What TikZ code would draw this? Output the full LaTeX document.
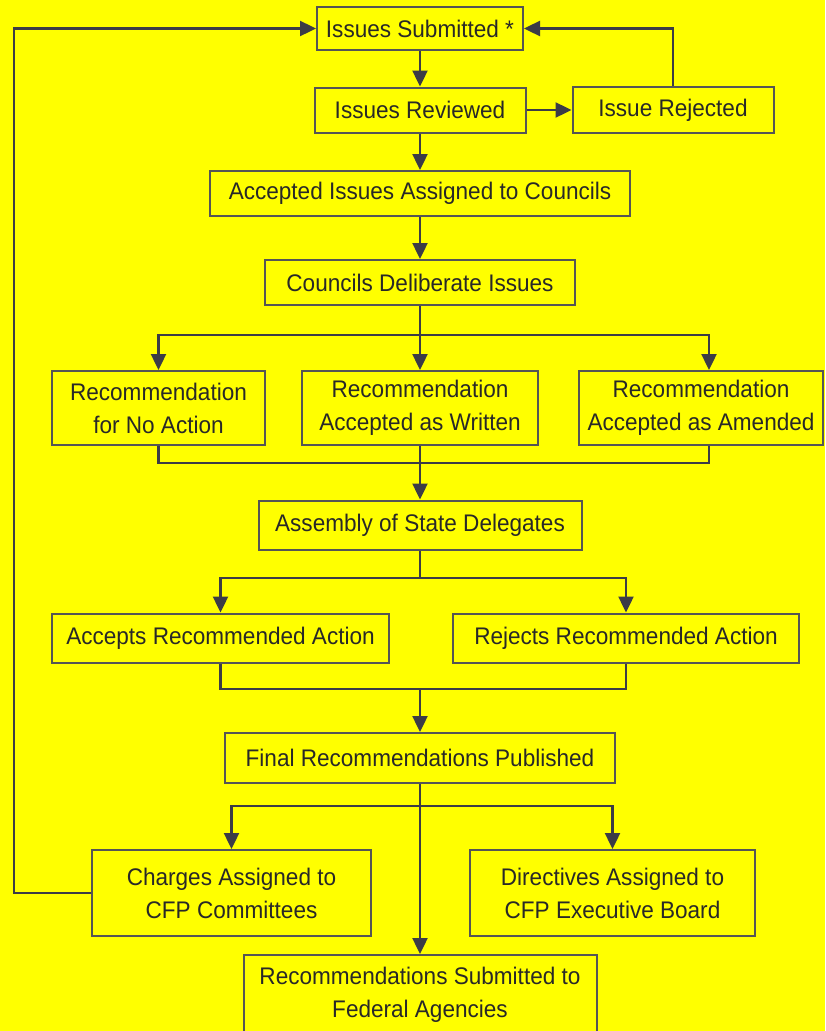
\documentclass[tikz,border=0pt]{standalone}
\usepackage{fontspec}
\setmainfont{Liberation Sans}[FakeStretch=0.94]
\usetikzlibrary{arrows.meta}
\definecolor{bgyellow}{RGB}{255,255,0}
\definecolor{linegray}{RGB}{60,60,70}
\definecolor{boxgray}{RGB}{85,85,85}
\definecolor{textgray}{RGB}{40,40,40}
\begin{document}
\begin{tikzpicture}[x=1pt, y=-1pt,
    block/.style={draw=boxgray, line width=2pt, fill=bgyellow, rectangle, align=center,
      inner sep=0pt, text=textgray, font=\fontsize{24}{33}\selectfont},
    flow/.style={draw=linegray, line width=2.4pt, -{Triangle[length=16pt,width=15pt]}},
    link/.style={draw=linegray, line width=2.4pt}]
	% Background
	\fill[bgyellow] (0,0) rectangle (825,1031);
	\useasboundingbox (0,0) rectangle (825,1031);

	% Submission and review
	\node[block, minimum width=206pt, minimum height=43pt] (submitted) at (420,28.5) {Issues Submitted *};
	\node[block, minimum width=211pt, minimum height=45pt] (reviewed) at (420,110) {Issues Reviewed};
	\node[block, minimum width=201pt, minimum height=46pt] (rejected) at (673,110) {Issue Rejected};
	\draw[flow] (submitted) -- (reviewed);
	\draw[flow] (reviewed) -- (rejected);
	\draw[flow] (rejected.north) |- (submitted.east);

	% Councils
	\node[block, minimum width=420pt, minimum height=45pt] (assigned) at (420,193.5) {Accepted Issues Assigned to Councils};
	\node[block, minimum width=310pt, minimum height=45pt] (deliberate) at (420,282.5) {Councils Deliberate Issues};
	\draw[flow] (reviewed) -- (assigned);
	\draw[flow] (assigned) -- (deliberate);

	% Recommendations
	\node[block, minimum width=213pt, minimum height=74pt] (noaction) at (158.5,408) {Recommendation\\for No Action};
	\node[block, minimum width=236pt, minimum height=74pt] (written) at (420,408) {Recommendation\\Accepted as Written};
	\node[block, minimum width=244pt, minimum height=74pt] (amended) at (701,408) {Recommendation\\Accepted as Amended};
	\coordinate (split1) at (420,335);
	\draw[link] (deliberate.south) -- (split1);
	\draw[flow] (split1) -| (noaction.north);
	\draw[flow] (split1) -- (written.north);
	\draw[flow] (split1) -| ([xshift=8pt]amended.north);

	% Assembly
	\node[block, minimum width=323pt, minimum height=49pt] (assembly) at (420,525) {Assembly of State Delegates};
	\coordinate (merge1) at (420,463);
	\draw[link] (noaction.south) |- (merge1);
	\draw[link] ([xshift=8pt]amended.south) |- (merge1);
	\draw[flow] (written.south) -- (assembly.north);

	% Vote
	\node[block, minimum width=337pt, minimum height=49pt] (accepts) at (220.5,638) {Accepts Recommended Action};
	\node[block, minimum width=346pt, minimum height=49pt] (rejects) at (626,638) {Rejects Recommended Action};
	\coordinate (split2) at (420,578);
	\draw[link] (assembly.south) -- (split2);
	\draw[flow] (split2) -| (accepts.north);
	\draw[flow] (split2) -| (rejects.north);

	% Final recommendations
	\node[block, minimum width=390pt, minimum height=50pt] (final) at (420,758) {Final Recommendations Published};
	\coordinate (merge2) at (420,689);
	\draw[link] (accepts.south) |- (merge2);
	\draw[link] (rejects.south) |- (merge2);
	\draw[flow] (merge2) -- (final.north);

	% Outcomes
	\node[block, minimum width=279pt, minimum height=86pt] (charges) at (231.5,893) {Charges Assigned to\\CFP Committees};
	\node[block, minimum width=285pt, minimum height=86pt] (directives) at (612.5,893) {Directives Assigned to\\CFP Executive Board};
	\node[block, minimum width=353pt, minimum height=79pt] (federal) at (420,994.5) {Recommendations Submitted to\\Federal Agencies};
	\coordinate (split3) at (420,806);
	\draw[flow] (split3) -| (charges.north);
	\draw[flow] (split3) -| (directives.north);
	\draw[flow] (final.south) -- (federal.north);

	% Loop back
	\draw[flow] (charges.west) -- ++(-77,0) |- (submitted.west);
\end{tikzpicture}
\end{document}
